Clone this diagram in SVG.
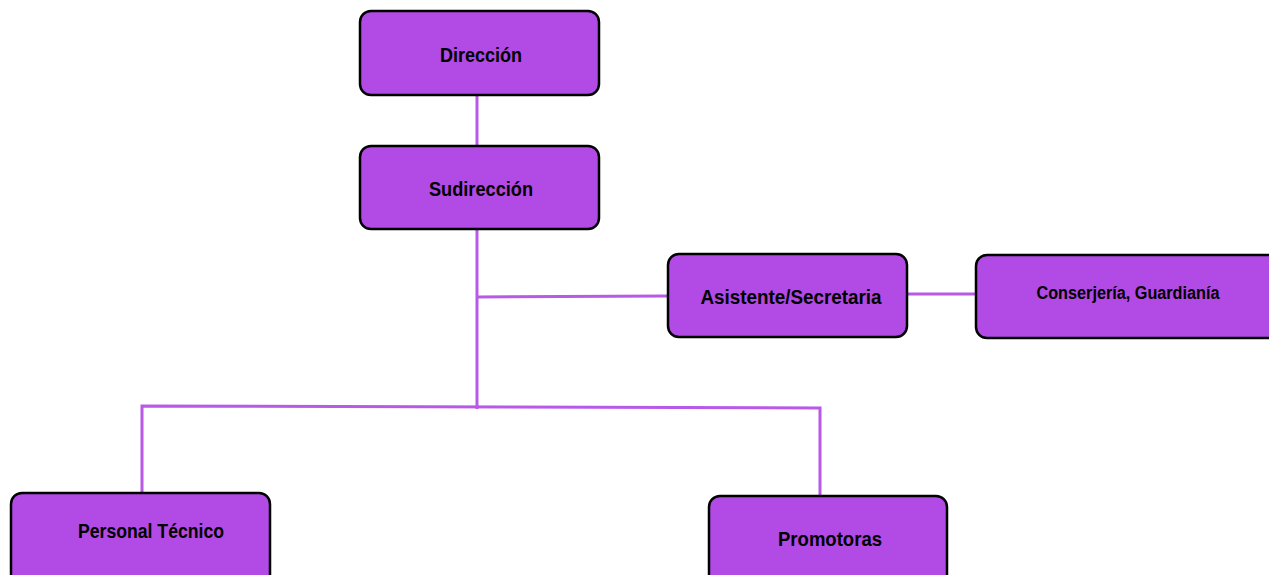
<svg xmlns="http://www.w3.org/2000/svg" width="1269" height="575" viewBox="0 0 1269 575">
<style>
.box{fill:#b24ae6;stroke:#000;stroke-width:2.5}
.lbl{font-family:"Liberation Sans",Arial,sans-serif;font-weight:bold;fill:#000;text-anchor:middle}
.ln{stroke:#b85ae8;stroke-width:3;fill:none}
</style>
<rect width="1269" height="575" fill="#fff"/>
<g id="connectors">
<line class="ln" x1="477" y1="95" x2="477" y2="146"/>
<line class="ln" x1="477" y1="229" x2="477" y2="409"/>
<line class="ln" x1="477" y1="297" x2="668" y2="296"/>
<line class="ln" x1="907" y1="294" x2="976" y2="294"/>
<polyline class="ln" points="142,493 142,406 820,408 820,496"/>
</g>
<g id="direccion">
<rect class="box" x="360" y="11" width="239" height="84" rx="11"/>
<text class="lbl" x="481" y="62" font-size="21" textLength="82" lengthAdjust="spacingAndGlyphs">Dirección</text>
</g>
<g id="sudireccion">
<rect class="box" x="360" y="146" width="239" height="83" rx="11"/>
<text class="lbl" x="481" y="196" font-size="21" textLength="104" lengthAdjust="spacingAndGlyphs">Sudirección</text>
</g>
<g id="asistente">
<rect class="box" x="668" y="254" width="239" height="83" rx="11"/>
<text class="lbl" x="791" y="304" font-size="21" textLength="181" lengthAdjust="spacingAndGlyphs">Asistente/Secretaria</text>
</g>
<g id="conserjeria">
<rect class="box" x="976" y="255" width="305" height="83" rx="11"/>
<text class="lbl" x="1128" y="299" font-size="17.5" textLength="183" lengthAdjust="spacingAndGlyphs">Conserjería, Guardianía</text>
</g>
<g id="personal">
<rect class="box" x="11" y="493" width="259" height="95" rx="11"/>
<text class="lbl" x="151" y="538" font-size="21" textLength="146" lengthAdjust="spacingAndGlyphs">Personal Técnico</text>
</g>
<g id="promotoras">
<rect class="box" x="709" y="496" width="238" height="95" rx="11"/>
<text class="lbl" x="830" y="546" font-size="21" textLength="104" lengthAdjust="spacingAndGlyphs">Promotoras</text>
</g>
</svg>
